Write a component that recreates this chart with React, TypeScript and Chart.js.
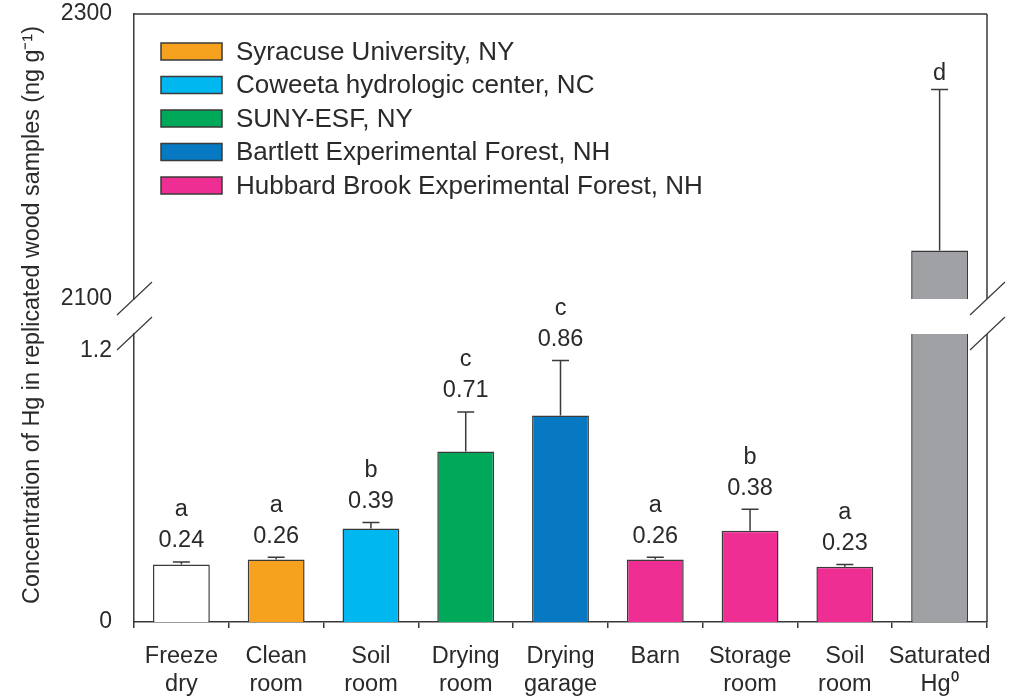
import React, { useEffect, useRef } from "react";
import { Chart, registerables } from "chart.js";

Chart.register(...registerables);

// ---- data ----
const categories: string[][] = [
  ["Freeze", "dry"],
  ["Clean", "room"],
  ["Soil", "room"],
  ["Drying", "room"],
  ["Drying", "garage"],
  ["Barn"],
  ["Storage", "room"],
  ["Soil", "room"],
  ["Saturated", "Hg\u2070"],
];
const meanValues: (number | null)[] = [0.24, 0.26, 0.39, 0.71, 0.86, 0.26, 0.38, 0.23, null];
const errorValues: (number | null)[] = [0.01, 0.01, 0.025, 0.165, 0.23, 0.01, 0.09, 0.01, null];
const groupLetters: string[] = ["a", "a", "b", "c", "c", "a", "b", "a", "d"];
const saturatedIndex = 8;
const saturatedValue = 2134;
const saturatedError = 113;

const lowerRange = [0, 1.2];
const upperRange = [2100, 2300];
const lowerTicks = [0, 1.2];
const upperTicks = [2100, 2300];

const siteNames = [
  "Syracuse University, NY",
  "Coweeta hydrologic center, NC",
  "SUNY-ESF, NY",
  "Bartlett Experimental Forest, NH",
  "Hubbard Brook Experimental Forest, NH",
];
const siteColors = ["#F7A21E", "#00B7EF", "#00A95A", "#0679C2", "#EE2E93"];
const barColors = [
  "#FFFFFF",
  siteColors[0],
  siteColors[1],
  siteColors[2],
  siteColors[3],
  siteColors[4],
  siteColors[4],
  siteColors[4],
  "#A0A1A4",
];

const yTitle = "Concentration of Hg in replicated wood samples (ng g\u207B\u00B9)";

// ---- style ----
const FONT = "'Liberation Sans', Arial, Helvetica, sans-serif";
const INK = "#2a2a2a";
const LINE = "#3a3a3a";
const LW = 1.5;

const fmt = (v: number) => v.toFixed(2);

const annotationPlugin = {
  id: "barAnnotations",
  afterDatasetsDraw(chart: any) {
    const { ctx } = chart;
    const low = chart.scales.yLow;
    const high = chart.scales.yHigh;
    const mainMeta = chart.getDatasetMeta(0);
    const satMeta = chart.getDatasetMeta(2);

    const drawError = (x: number, yTop: number, yCap: number) => {
      ctx.beginPath();
      ctx.moveTo(x, yTop);
      ctx.lineTo(x, yCap);
      ctx.moveTo(x - 8.5, yCap);
      ctx.lineTo(x + 8.5, yCap);
      ctx.stroke();
    };

    ctx.save();
    ctx.strokeStyle = LINE;
    ctx.lineWidth = LW;
    ctx.fillStyle = INK;
    ctx.textAlign = "center";
    ctx.textBaseline = "middle";
    ctx.font = `23.5px ${FONT}`;

    meanValues.forEach((v, i) => {
      if (v == null) return;
      const bar = mainMeta.data[i];
      const err = errorValues[i] ?? 0;
      const yCap = low.getPixelForValue(v + err);
      drawError(bar.x, bar.y, yCap);
      ctx.fillText(fmt(v), bar.x, yCap - 21);
      ctx.fillText(groupLetters[i], bar.x, yCap - 52);
    });

    const satBar = satMeta.data[saturatedIndex];
    const satCap = high.getPixelForValue(saturatedValue + saturatedError);
    drawError(satBar.x, satBar.y, satCap);
    ctx.fillText(groupLetters[saturatedIndex], satBar.x, satCap - 16);
    ctx.restore();
  },
  afterDraw(chart: any) {
    const { ctx, chartArea } = chart;
    const low = chart.scales.yLow;
    const high = chart.scales.yHigh;
    const { left, right, top, bottom } = chartArea;
    const breakHigh = high.bottom;
    const breakLow = low.top;

    ctx.save();
    ctx.strokeStyle = LINE;
    ctx.lineWidth = LW;
    ctx.beginPath();
    // top edge of frame
    ctx.moveTo(left, top);
    ctx.lineTo(right, top);
    // right edge, interrupted at the break
    ctx.moveTo(right, top);
    ctx.lineTo(right, breakHigh);
    ctx.moveTo(right, breakLow);
    ctx.lineTo(right, bottom);
    ctx.stroke();

    // break marks on both vertical edges
    ctx.lineWidth = 1.2;
    ctx.beginPath();
    for (const x of [left, right]) {
      for (const y of [breakHigh, breakLow]) {
        ctx.moveTo(x - 17, y + 16);
        ctx.lineTo(x + 18, y - 17);
      }
    }
    ctx.stroke();

    // legend
    ctx.font = `26px ${FONT}`;
    ctx.textAlign = "left";
    ctx.textBaseline = "middle";
    siteNames.forEach((name, i) => {
      const cy = 51.5 + i * 33.5;
      ctx.fillStyle = siteColors[i];
      ctx.fillRect(161, cy - 8.5, 61, 17);
      ctx.lineWidth = LW;
      ctx.strokeStyle = LINE;
      ctx.strokeRect(161, cy - 8.5, 61, 17);
      ctx.fillStyle = INK;
      ctx.fillText(name, 236, cy + 1);
    });

    // y-axis title
    ctx.translate(39, 315);
    ctx.rotate(-Math.PI / 2);
    ctx.textAlign = "center";
    ctx.textBaseline = "alphabetic";
    ctx.font = `23.3px ${FONT}`;
    ctx.fillStyle = INK;
    ctx.fillText(yTitle, 0, 0);
    ctx.restore();
  },
};

export default function App() {
  const canvasRef = useRef<HTMLCanvasElement | null>(null);

  useEffect(() => {
    const canvas = canvasRef.current;
    if (!canvas) return;

    const satLow = categories.map((_, i) =>
      i === saturatedIndex ? Math.min(saturatedValue, lowerRange[1]) : null
    );
    const satHigh = categories.map((_, i) => (i === saturatedIndex ? saturatedValue : null));

    const tickFont = { family: FONT, size: 23, lineHeight: 1.45 };

    const chart = new Chart(canvas, {
      type: "bar",
      data: {
        labels: categories,
        datasets: [
          {
            data: meanValues,
            yAxisID: "yLow",
            backgroundColor: barColors,
            borderColor: LINE,
            borderWidth: LW,
            grouped: false,
            barPercentage: 0.6,
            categoryPercentage: 1,
          },
          {
            data: satLow,
            yAxisID: "yLow",
            backgroundColor: barColors[saturatedIndex],
            borderColor: LINE,
            borderWidth: { left: LW, right: LW, top: 0, bottom: 0 },
            grouped: false,
            barPercentage: 0.6,
            categoryPercentage: 1,
          },
          {
            data: satHigh,
            yAxisID: "yHigh",
            backgroundColor: barColors[saturatedIndex],
            borderColor: LINE,
            borderWidth: LW,
            grouped: false,
            barPercentage: 0.6,
            categoryPercentage: 1,
          },
        ] as any,
      },
      options: {
        responsive: false,
        animation: false,
        layout: { padding: { left: 0, right: 24, top: 14, bottom: 0 } },
        plugins: {
          legend: { display: false },
          tooltip: { enabled: false },
        },
        scales: {
          x: {
            type: "category",
            offset: true,
            grid: {
              display: true,
              drawOnChartArea: false,
              drawTicks: true,
              tickLength: 6,
              color: LINE,
              lineWidth: LW,
            },
            border: { display: true, color: LINE, width: LW },
            ticks: {
              color: INK,
              font: { family: FONT, size: 23.5, lineHeight: 1.2 },
              padding: 14,
              maxRotation: 0,
              autoSkip: false,
            },
            afterFit: (s: any) => {
              s.height = 75;
              s.paddingLeft = 0;
              s.paddingRight = 0;
            },
          },
          yLow: {
            type: "linear",
            position: "left",
            stack: "value",
            stackWeight: 288,
            weight: 1,
            min: lowerRange[0],
            max: lowerRange[1],
            afterBuildTicks: (s: any) => {
              s.ticks = lowerTicks.map((value) => ({ value }));
            },
            grid: { display: false, drawTicks: false },
            border: { display: true, color: LINE, width: LW },
            ticks: {
              color: INK,
              font: tickFont,
              padding: 22,
              callback: (v: any) => (v === lowerRange[1] ? ["", String(v)] : String(v)),
            },
            afterFit: (s: any) => {
              s.width = 134;
              s.paddingTop = 0;
              s.paddingBottom = 0;
            },
          },
          yGap: {
            type: "linear",
            position: "left",
            stack: "value",
            stackWeight: 35,
            weight: 2,
            min: 0,
            max: 1,
            grid: { display: false, drawTicks: false },
            border: { display: false },
            ticks: { display: false },
            afterFit: (s: any) => {
              s.width = 134;
              s.paddingTop = 0;
              s.paddingBottom = 0;
            },
          },
          yHigh: {
            type: "linear",
            position: "left",
            stack: "value",
            stackWeight: 285,
            weight: 3,
            min: upperRange[0],
            max: upperRange[1],
            afterBuildTicks: (s: any) => {
              s.ticks = upperTicks.map((value) => ({ value }));
            },
            grid: { display: false, drawTicks: false },
            border: { display: true, color: LINE, width: LW },
            ticks: {
              color: INK,
              font: tickFont,
              padding: 22,
              callback: (v: any) => String(v),
            },
            afterFit: (s: any) => {
              s.width = 134;
              s.paddingTop = 0;
              s.paddingBottom = 0;
            },
          },
        } as any,
      },
      plugins: [annotationPlugin],
    });

    return () => chart.destroy();
  }, []);

  return (
    <div
      style={{
        position: "fixed",
        left: 0,
        top: 0,
        width: 1011,
        height: 697,
        background: "#ffffff",
      }}
    >
      <canvas ref={canvasRef} width={1011} height={697} style={{ display: "block" }} />
    </div>
  );
}
